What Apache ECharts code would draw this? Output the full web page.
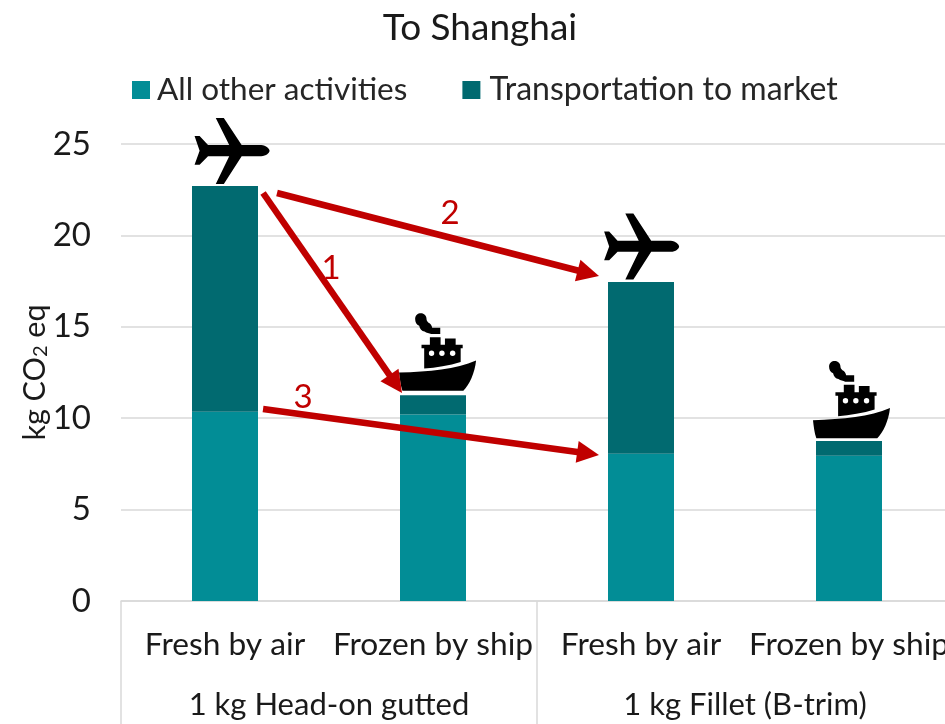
<!DOCTYPE html>
<html><head><meta charset="utf-8">
<style>html,body{margin:0;padding:0;background:#fff;overflow:hidden}#c{width:945px;height:724px}</style>
<script src="https://cdn.jsdelivr.net/npm/echarts@6/dist/echarts.min.js"></script>
</head><body><div id="c"></div>
<script>
var titleText = 'To Shanghai';
var methods = ['Fresh by air', 'Frozen by ship', 'Fresh by air', 'Frozen by ship'];
var products = ['1 kg Head-on gutted', '1 kg Fillet (B-trim)'];
var otherActivities = [10.35, 10.2, 8.05, 7.95];
var transportation = [12.35, 1.05, 9.4, 0.8];
var yTicksMax = 25, yTicksStep = 5;
// annotations, in chart units: [band position, value]
var arrows = [[0.683, 22.32, 1.351, 11.38], [0.75, 22.32, 2.298, 17.78], [0.683, 10.5, 2.298, 7.99]];
var arrowNotes = [['1', 1.01, 18.22], ['2', 1.582, 21.23], ['3', 0.875, 11.16]];
var planes = [[0.534, 24.62], [2.503, 19.39]];
var ships = [[1.522, 13.62], [3.512, 11.02]];

var FONT = 'Lato, Carlito, "Noto Sans", sans-serif';
var RED = '#C00000', TXT = '#1a1a1a', GRID = '#D9D9D9';
var planePath = 'M223,97C223,91 213,81 198,80L140,80L87,0L63,0L103,80L40,80L15,53L0,53L15,97L0,138L15,138L40,113L103,113L63,195L87,195L140,113L198,113C213,113 223,103 223,97Z';
var hullPath = 'M0,178C90,176 170,168 230,142C226,180 210,215 192,232L10,232C4,215 2,195 0,178Z';
var cabinPath = 'M75,166L75,105L67,105L67,95L92,95L92,72L124,72L124,95L137,95L137,76L169,76L169,95L190,95L190,105L184,105L184,146C150,157 110,163 75,166Z';
var smokePath = 'M48,18C48,7 56,1 65,1C75,1 82,9 82,18C82,22 84,26 88,29C94,31 98,38 99,44L123,44L123,63L96,63C90,60 82,60 76,55C68,54 62,48 60,38C52,35 48,28 48,18Z';
var PLANE_W = 75, PLANE_H = 66, SHIP_W = 77, SHIP_H = 78;

function pathEl(d, x, y, w, h, fill) {
  return {type: 'path', shape: {pathData: d, x: x, y: y, width: w, height: h, layout: 'cover'}, style: {fill: fill}};
}
function renderArrow(params, api) {
  var a = api.coord([api.value(0), api.value(1)]), b = api.coord([api.value(2), api.value(3)]);
  var dx = b[0] - a[0], dy = b[1] - a[1], L = Math.sqrt(dx * dx + dy * dy), ux = dx / L, uy = dy / L;
  var hl = 22, hw = 11, bx = b[0] - ux * hl, by = b[1] - uy * hl;
  return {type: 'group', children: [
    {type: 'line', shape: {x1: a[0], y1: a[1], x2: bx + ux * 2, y2: by + uy * 2}, style: {stroke: RED, lineWidth: 6.5}},
    {type: 'polygon', shape: {points: [[b[0], b[1]], [bx - uy * hw, by + ux * hw], [bx + uy * hw, by - ux * hw]]}, style: {fill: RED}}
  ]};
}
function renderNote(params, api) {
  var p = api.coord([api.value(1), api.value(2)]);
  return {type: 'text', style: {x: p[0], y: p[1], text: arrowNotes[params.dataIndex][0], fill: RED, font: '33px ' + FONT, textAlign: 'center', textVerticalAlign: 'middle'}};
}
function renderPlane(params, api) {
  var p = api.coord([api.value(0), api.value(1)]);
  return pathEl(planePath, p[0] - PLANE_W / 2, p[1] - PLANE_H / 2, PLANE_W, PLANE_H, '#000');
}
function renderShip(params, api) {
  var p = api.coord([api.value(0), api.value(1)]), x = p[0] - SHIP_W / 2, y = p[1] - SHIP_H / 2, s = SHIP_W / 230;
  var kids = [
    pathEl(hullPath, x, y + 142 * s, 230 * s, 90 * s, '#000'),
    pathEl(cabinPath, x + 67 * s, y + 72 * s, 123 * s, 94 * s, '#000'),
    pathEl(smokePath, x + 48 * s, y + 1 * s, 75 * s, 62 * s, '#000')
  ];
  [97, 128, 160].forEach(function (cx) {
    kids.push({type: 'circle', shape: {cx: x + cx * s, cy: y + 120 * s, r: 2.7}, style: {fill: '#fff'}});
  });
  return {type: 'group', children: kids};
}
function barSeries(name, data, color) {
  return {name: name, type: 'bar', stack: 'total', data: data, barWidth: 66, itemStyle: {color: color}, z: 2, xAxisIndex: 0, yAxisIndex: 0};
}
var chart = echarts.init(document.getElementById('c'), null, {renderer: 'canvas'});
chart.setOption({
  animation: false,
  backgroundColor: '#fff',
  title: {text: titleText, left: 475, top: 5, textAlign: 'center', textStyle: {fontFamily: FONT, fontSize: 37, fontWeight: 'normal', color: TXT}},
  legend: {left: 132, top: 74, padding: 0, itemWidth: 18, itemHeight: 18, itemGap: 55, icon: 'rect',
    data: [{name: 'All other activities'},
      {name: 'Transportation to market', textStyle: {fontFamily: FONT, fontSize: 32, color: '#262626', padding: [0, 0, 0, 4]}}],
    textStyle: {fontFamily: FONT, fontSize: 31.5, color: '#262626', padding: [0, 0, 0, 2]}},
  grid: {left: 121, top: 144, width: 832, height: 457, containLabel: false, outerBoundsMode: 'none'},
  xAxis: [
    {type: 'category', data: methods, position: 'bottom',
      axisLine: {lineStyle: {color: GRID, width: 1.5}}, axisTick: {show: false},
      axisLabel: {interval: 0, margin: 28, color: TXT, fontFamily: FONT, fontSize: 31.7}},
    {type: 'category', data: products, position: 'bottom',
      axisLine: {show: false},
      axisTick: {show: true, length: 125, lineStyle: {color: GRID, width: 1.5}},
      axisLabel: {interval: 0, margin: 88, color: TXT, fontFamily: FONT, fontSize: 31}},
    {type: 'value', min: 0, max: 4, show: false}
  ],
  yAxis: {type: 'value', min: 0, max: yTicksMax, interval: yTicksStep,
    axisLine: {show: false}, axisTick: {show: false},
    splitLine: {lineStyle: {color: GRID, width: 1.5}},
    axisLabel: {margin: 30, color: TXT, fontFamily: FONT, fontSize: 33},
    name: 'kg CO{s|2} eq', nameLocation: 'middle', nameGap: 70, nameRotate: 90, nameMoveOverlap: false,
    nameTextStyle: {color: TXT, fontFamily: FONT, fontSize: 30.5, rich: {s: {fontFamily: FONT, fontSize: 20, color: TXT, padding: [10, 0, 0, 0]}}}},
  series: [
    barSeries('All other activities', otherActivities, '#028D96'),
    barSeries('Transportation to market', transportation, '#016A70'),
    {type: 'custom', xAxisIndex: 2, yAxisIndex: 0, data: planes, renderItem: renderPlane, z: 4, silent: true, encode: {x: 0, y: 1}},
    {type: 'custom', xAxisIndex: 2, yAxisIndex: 0, data: ships, renderItem: renderShip, z: 4, silent: true, encode: {x: 0, y: 1}},
    {type: 'custom', xAxisIndex: 2, yAxisIndex: 0, data: arrows, renderItem: renderArrow, z: 5, silent: true, encode: {x: [0, 2], y: [1, 3]}},
    {type: 'custom', xAxisIndex: 2, yAxisIndex: 0, data: arrowNotes.map(function (n) { return [+n[0], n[1], n[2]]; }), renderItem: renderNote, z: 6, silent: true, encode: {x: 1, y: 2}}
  ]
});
</script></body></html>
